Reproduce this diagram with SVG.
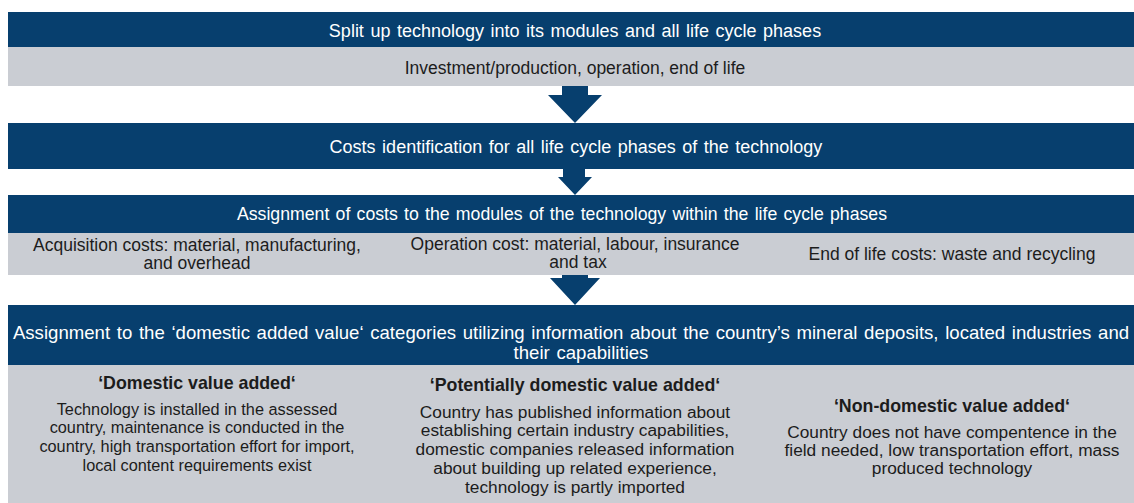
<svg xmlns="http://www.w3.org/2000/svg" width="1134" height="503" viewBox="0 0 1134 503">
<style>
.dark{fill:#073f6e}
.gray{fill:#cacdd3}
.arrow{fill:#073f6e}
text{font-family:"Liberation Sans",Arial,sans-serif;text-anchor:middle}
.hw{fill:#ffffff;font-size:18px;word-spacing:1.5px}
.h3{fill:#ffffff;font-size:17.7px;word-spacing:1.3px}
.hb{fill:#ffffff;font-size:18.6px;word-spacing:1.5px}
.bd{fill:#1c1c1c;font-size:17.5px}
.bs{fill:#1c1c1c;font-size:17.3px}
.b1{fill:#1c1c1c;font-size:16.3px}
.bt{fill:#1c1c1c;font-size:17.8px;font-weight:bold}
</style>
<rect width="1134" height="503" fill="#ffffff"/>
<g id="step1">
<rect class="dark" x="8" y="12" width="1126" height="35"/>
<text class="hw" x="575" y="37">Split up technology into its modules and all life cycle phases</text>
<rect class="gray" x="8" y="47" width="1126" height="39"/>
<text class="bd" x="575" y="74">Investment/production, operation, end of life</text>
</g>
<g id="step2">
<rect class="dark" x="8" y="123" width="1126" height="46"/>
<text class="hw" x="576" y="153">Costs identification for all life cycle phases of the technology</text>
</g>
<g id="step3">
<rect class="dark" x="8" y="195" width="1126" height="38"/>
<text class="h3" x="562" y="220">Assignment of costs to the modules of the technology within the life cycle phases</text>
</g>
<g id="cost-acquisition">
<rect class="gray" x="8" y="233" width="380" height="42"/>
<text class="bd" x="197" y="251">Acquisition costs: material, manufacturing,</text>
<text class="bd" x="197" y="269">and overhead</text>
</g>
<g id="cost-operation">
<rect class="gray" x="388" y="233" width="376" height="42"/>
<text class="bd" x="575" y="250">Operation cost: material, labour, insurance</text>
<text class="bd" x="578" y="268">and tax</text>
</g>
<g id="cost-endoflife">
<rect class="gray" x="764" y="233" width="370" height="42"/>
<text class="bd" x="952" y="260">End of life costs: waste and recycling</text>
</g>
<g id="step4">
<rect class="dark" x="8" y="305" width="1126" height="60"/>
<text class="hb" x="571" y="339">Assignment to the ‘domestic added value‘ categories utilizing information about the country’s mineral deposits, located industries and</text>
<text class="hb" x="581" y="359">their capabilities</text>
</g>
<rect class="gray" x="8" y="365" width="1126" height="138"/>
<g id="cat-domestic">
<text class="bt" x="197" y="389">‘Domestic value added‘</text>
<text class="b1" x="197" y="415">Technology is installed in the assessed</text>
<text class="b1" x="197" y="433">country, maintenance is conducted in the</text>
<text class="b1" x="197" y="452">country, high transportation effort for import,</text>
<text class="b1" x="197" y="471">local content requirements exist</text>
</g>
<g id="cat-potential">
<text class="bt" x="575" y="391">‘Potentially domestic value added‘</text>
<text class="bs" x="575" y="418">Country has published information about</text>
<text class="bs" x="575" y="436">establishing certain industry capabilities,</text>
<text class="bs" x="575" y="455">domestic companies released information</text>
<text class="bs" x="575" y="474">about building up related experience,</text>
<text class="bs" x="575" y="493">technology is partly imported</text>
</g>
<g id="cat-nondomestic">
<text class="bt" x="952" y="412">‘Non-domestic value added‘</text>
<text class="bs" x="952" y="438">Country does not have compentence in the</text>
<text class="bs" x="952" y="456">field needed, low transportation effort, mass</text>
<text class="bs" x="952" y="474">produced technology</text>
</g>
<g id="connectors">
<polygon class="arrow" points="562,86 588,86 588,95 602,95 575,123 548,95 562,95"/>
<polygon class="arrow" points="563,169 585,169 585,177 592,177 575,195 558,177 563,177"/>
<polygon class="arrow" points="562,275 588,275 588,278 600,278 575,305 550,278 562,278"/>
</g>
</svg>
